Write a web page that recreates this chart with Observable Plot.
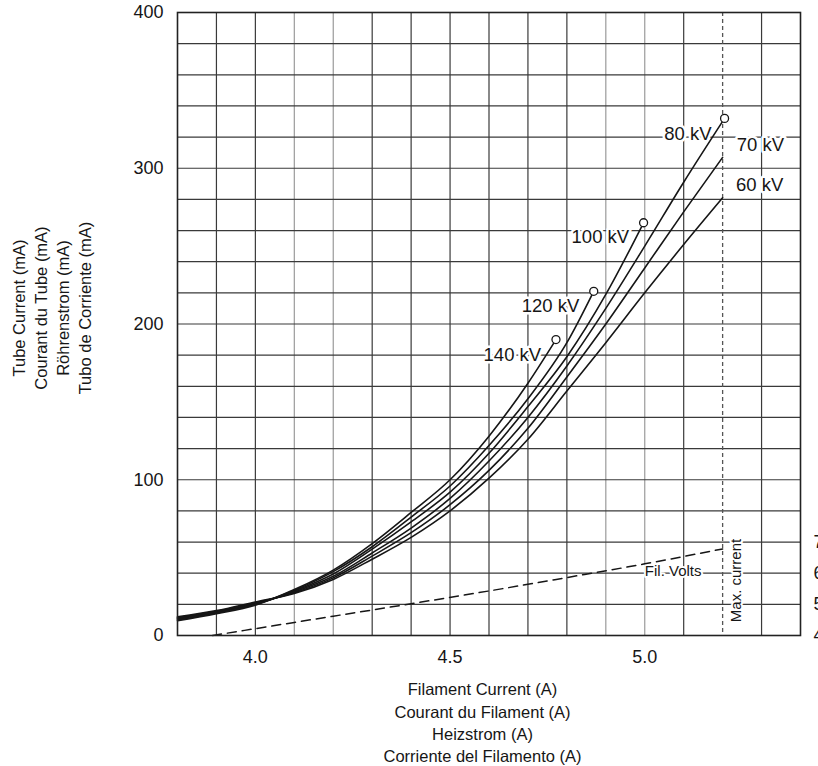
<!DOCTYPE html>
<html>
<head>
<meta charset="utf-8">
<script src="https://cdn.jsdelivr.net/npm/d3@7"></script>
<script src="https://cdn.jsdelivr.net/npm/@observablehq/plot@0.6"></script>
<style>
  body { margin: 0; background: #fff; }
  #chart svg { display: block; }
</style>
</head>
<body>
<div id="chart"></div>
<script>
// ---- Data (filament current in A, tube current in mA) ----
const kv60A  = [3.8, 3.9, 4.0, 4.1, 4.2, 4.3, 4.4, 4.5, 4.6, 4.7, 4.8, 4.9, 5.0, 5.1, 5.2];
const kv60mA = [12, 16, 21.5, 27, 36, 49, 63, 80, 101, 126, 157, 188, 220, 251, 281];

const kv70A  = [3.8, 3.9, 4.0, 4.1, 4.2, 4.3, 4.4, 4.5, 4.6, 4.7, 4.8, 4.9, 5.0, 5.1, 5.2];
const kv70mA = [11.5, 15.5, 21, 27.5, 37, 51, 66, 84, 106, 133, 166, 200, 236, 272, 307];

const kv80A  = [3.8, 3.9, 4.0, 4.1, 4.2, 4.3, 4.4, 4.5, 4.6, 4.7, 4.8, 4.9, 5.0, 5.1, 5.205];
const kv80mA = [11, 15, 20.5, 28, 38, 53, 69, 88, 112, 140, 173, 210, 250, 291, 332];

const kv100A  = [3.8, 3.9, 4.0, 4.1, 4.2, 4.3, 4.4, 4.5, 4.6, 4.7, 4.8, 4.9, 4.997];
const kv100mA = [10.5, 15, 20, 28.5, 39.5, 55.5, 73, 92, 117, 147, 179, 219, 265];

const kv120A  = [3.8, 3.9, 4.0, 4.1, 4.2, 4.3, 4.4, 4.5, 4.6, 4.7, 4.8, 4.869];
const kv120mA = [10, 14.5, 20, 29, 41, 57, 76, 96, 122, 152, 188, 221];

const kv140A  = [3.8, 3.9, 4.0, 4.1, 4.2, 4.3, 4.4, 4.5, 4.6, 4.7, 4.772];
const kv140mA = [9.5, 14, 19.5, 29.5, 42, 59, 79, 100, 128, 162, 190];

// Filament volts (right-hand scale: 4 V at 0 mA, 1 V per 20 mA)
const filVoltsA = [3.89, 4.0, 4.1, 4.2, 4.4, 4.6, 4.8, 5.0, 5.2];
const filVolts  = [4.0, 4.22, 4.42, 4.62, 5.02, 5.43, 5.86, 6.3, 6.78];
const voltTicks = [4, 5, 6, 7];

// Series with end-point circles
const circledSeries = ["80 kV", "100 kV", "120 kV", "140 kV"];

// Curve labels (centre positions in data units)
const labelText = ["140 kV", "120 kV", "100 kV", "80 kV", "70 kV", "60 kV"];
const labelA    = [4.660, 4.758, 4.886, 5.111, 5.297, 5.295];
const labelMA   = [180, 211.8, 256, 322, 315, 289];

// Annotations
const maxCurrentA = 5.2;
const annoText = ["Fil. Volts"];
const annoA = [5.073];
const annoMA = [41.5];
const maxText = ["Max. current"];
const maxTextA = [5.236];
const maxTextMA = [35.3];

// Ticks & grid
const xTicks = [4.0, 4.5, 5.0];
const yTicks = [0, 100, 200, 300, 400];
const xGridDark = [3.9, 4.0, 4.3, 4.4, 4.5, 4.6, 4.7, 4.8, 5.1, 5.3];
const xGridLight = [4.1, 4.2, 4.9, 5.0];
const yGrid = [20, 40, 60, 80, 100, 120, 140, 160, 180, 200, 220, 240, 260, 280, 300, 320, 340, 360, 380];

const xTitle = "Filament Current (A)\nCourant du Filament (A)\nHeizstrom (A)\nCorriente del Filamento (A)";
const yTitle = "Tube Current (mA)\nCourant du Tube (mA)\nRöhrenstrom (mA)\nTubo de Corriente (mA)";

// ---- Build tables ----
const series = [
  {kv: "60 kV", A: kv60A, mA: kv60mA},
  {kv: "70 kV", A: kv70A, mA: kv70mA},
  {kv: "80 kV", A: kv80A, mA: kv80mA},
  {kv: "100 kV", A: kv100A, mA: kv100mA},
  {kv: "120 kV", A: kv120A, mA: kv120mA},
  {kv: "140 kV", A: kv140A, mA: kv140mA}
];
const curveRows = series.flatMap(s => s.A.map((a, i) => ({kv: s.kv, a, ma: s.mA[i]})));
const endRows = series.filter(s => circledSeries.includes(s.kv))
  .map(s => ({kv: s.kv, a: s.A[s.A.length - 1], ma: s.mA[s.mA.length - 1]}));
const voltRows = filVoltsA.map((a, i) => ({a, v: filVolts[i]}));
const voltToMA = v => (v - 4) * 20;
const labelRows = labelText.map((t, i) => ({t, a: labelA[i], ma: labelMA[i]}));
const annoRows = annoText.map((t, i) => ({t, a: annoA[i], ma: annoMA[i]}));
const maxRows = maxText.map((t, i) => ({t, a: maxTextA[i], ma: maxTextMA[i]}));

const ink = "#161616";
const font = "'Liberation Sans', Arial, sans-serif";

const plot = Plot.plot({
  width: 818,
  height: 766,
  marginLeft: 177,
  marginRight: 18,
  marginTop: 12,
  marginBottom: 131,
  style: {fontFamily: font, background: "white", color: ink, overflow: "hidden"},
  x: {domain: [3.8, 5.4], axis: null},
  y: {domain: [0, 400], axis: null},
  marks: [
    Plot.ruleX(xGridLight, {stroke: "#9a9a9a", strokeWidth: 1.2}),
    Plot.ruleX(xGridDark, {stroke: "#3a3a3a", strokeWidth: 1.2}),
    Plot.ruleY(yGrid, {stroke: "#3a3a3a", strokeWidth: 1.2}),
    Plot.ruleX([maxCurrentA], {stroke: "#555", strokeWidth: 1.3, strokeDasharray: "4,3"}),
    // labels with white halo (hide grid behind)
    Plot.text(labelRows, {x: "a", y: "ma", text: "t", fontSize: 18.5, fill: ink, stroke: "white", strokeWidth: 5, paintOrder: "stroke"}),
    Plot.text(annoRows, {x: "a", y: "ma", text: "t", fontSize: 15, fill: ink, stroke: "white", strokeWidth: 4, paintOrder: "stroke"}),
    Plot.text(maxRows, {x: "a", y: "ma", text: "t", rotate: -90, fontSize: 15, fill: ink, stroke: "white", strokeWidth: 4, paintOrder: "stroke"}),
    // filament volts dashed line
    Plot.line(voltRows, {x: "a", y: d => voltToMA(d.v), stroke: ink, strokeWidth: 1.5, strokeDasharray: "9,6", curve: "monotone-x"}),
    // tube current curves
    Plot.line(curveRows, {x: "a", y: "ma", z: "kv", stroke: ink, strokeWidth: 1.6, curve: "monotone-x"}),
    Plot.dot(endRows, {x: "a", y: "ma", r: 4, fill: "white", stroke: ink, strokeWidth: 1.3}),
    Plot.frame({stroke: "#222", strokeWidth: 1.6}),
    // tick labels
    Plot.text(xTicks, {x: d => d, frameAnchor: "bottom", lineAnchor: "middle", dy: 21.5, text: d => d3.format(".1f")(d), fontSize: 18, fill: ink}),
    Plot.text(yTicks, {y: d => d, frameAnchor: "left", dx: -14, textAnchor: "end", text: d => String(d), fontSize: 18, fill: ink}),
    Plot.text(voltTicks, {y: d => voltToMA(d), frameAnchor: "right", dx: 13, textAnchor: "start", text: d => String(d), fontSize: 18, fill: ink}),
    // axis titles
    Plot.text([xTitle], {frameAnchor: "bottom", lineAnchor: "middle", textAnchor: "middle", dx: -6.5, dy: 86, text: d => d, fontSize: 16.5, lineHeight: 1.34, fill: ink}),
    Plot.text([yTitle], {frameAnchor: "left", lineAnchor: "middle", textAnchor: "middle", dx: -126.5, dy: -16, rotate: -90, text: d => d, fontSize: 16.5, lineHeight: 1.34, fill: ink})
  ]
});
document.getElementById("chart").appendChild(plot);
</script>
</body>
</html>
